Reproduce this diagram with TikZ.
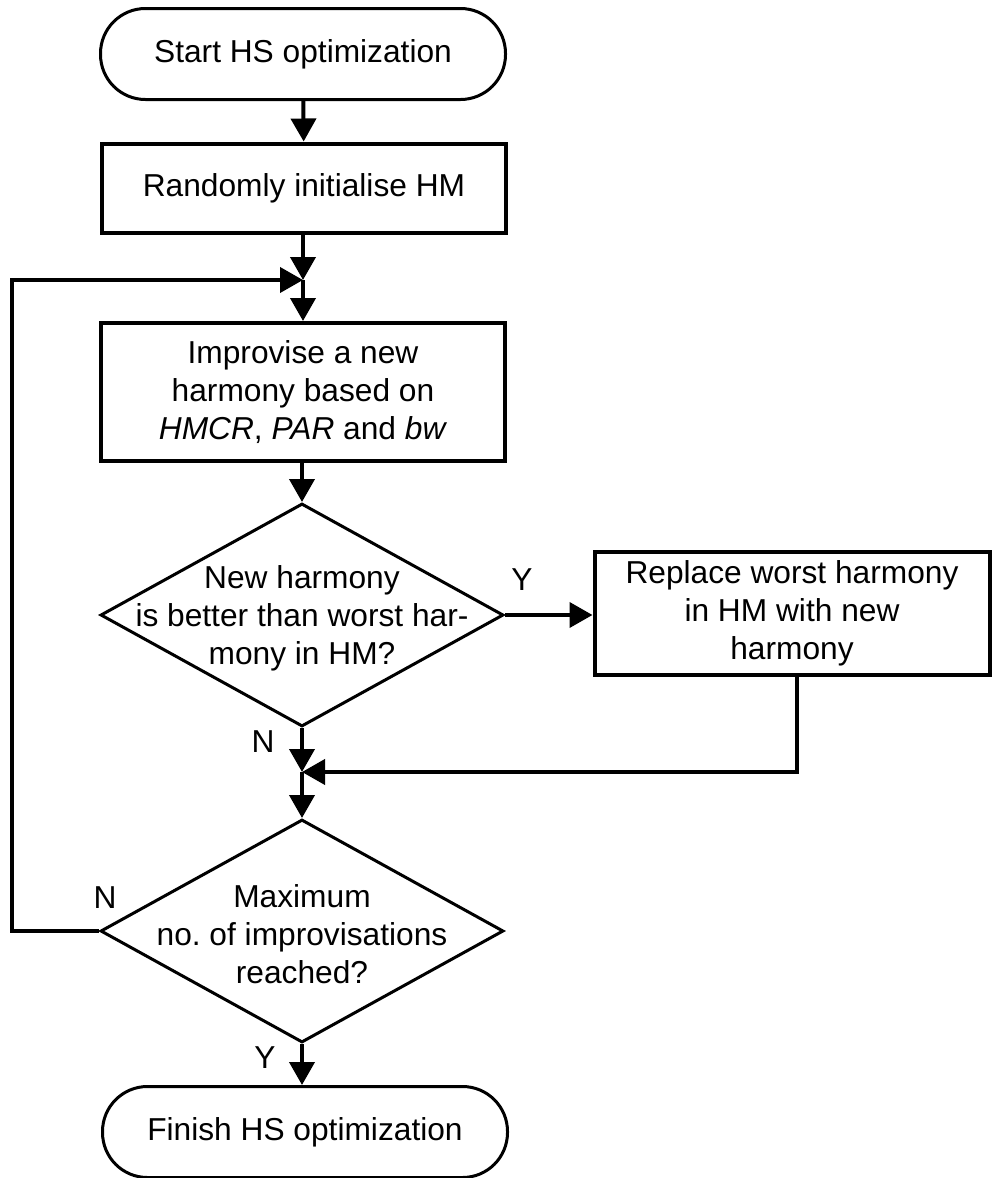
\documentclass[tikz,border=0pt]{standalone}
\usepackage{fontspec}
\setmainfont{Liberation Sans}
\usetikzlibrary{shapes.geometric,arrows.meta}
\frenchspacing
\begin{document}
\begin{tikzpicture}[x=1pt,y=-1pt,
  every node/.style={font=\fontsize{31.7}{38}\selectfont},
  term/.style={draw,line width=3pt,rounded corners=45pt,minimum width=405pt,minimum height=91pt,inner sep=0pt},
  proc/.style={draw,line width=4pt,minimum width=404pt,inner sep=0pt,align=center},
  dec/.style={draw,diamond,line width=3pt,minimum width=403pt,minimum height=223pt,inner sep=0pt},
  dectext/.style={align=center,inner sep=0pt,yshift=-3pt},
  flow/.style={line width=4pt,-{Triangle[length=23pt,width=25pt]}},
  lbl/.style={inner sep=0pt}
]
\useasboundingbox (0,0) rectangle (991,1178);

% process steps
\node[term] (start) at (303,54) {Start HS optimization};
\node[proc,minimum height=89pt] (init) at (304,188) {Randomly initialise HM};
\coordinate (j1) at (303,280);
\node[proc,minimum height=138pt] (impr) at (303,392)
  {Improvise a new\\harmony based on\\\textit{HMCR}, \textit{PAR} and \textit{bw}};
\node[dec,label={[dectext]center:New harmony\\is better than worst har-\\mony in HM?}] (d1) at (302,615) {};
\node[proc,minimum width=395pt,minimum height=123pt] (repl) at (792,613)
  {Replace worst harmony\\in HM with new\\harmony};
\coordinate (j2) at (302,772);
\node[dec,label={[dectext]center:Maximum\\no. of improvisations\\reached?}] (d2) at (302,931) {};
\node[term] (fin) at (305,1132) {Finish HS optimization};
\coordinate (lx) at (12,0);

% connectors
\draw[flow] (start) -- (init);
\draw[flow] (init.south -| j1) -- (j1);
\draw[flow] (j1) -- (j1 |- impr.north);
\draw[flow] (impr.south -| d1) -- (d1);
\draw[flow] (d1) -- (j2);
\draw[flow] (j2) -- (d2);
\draw[flow] (d2) -- (d2 |- fin.north);
\draw[flow] (d1.east) -- (d1.east -| repl.west);
\draw[flow] ([xshift=5pt]repl.south) |- (j2);
\draw[flow] (d2.west) -- (d2.west -| lx) |- (j1);

% branch labels
\node[lbl] (ly1) at (522,580) {Y};
\node[lbl] (ln1) at (263,742) {N};
\node[lbl] (ln2) at (105,898) {N};
\node[lbl] (ly2) at (265,1058) {Y};
\end{tikzpicture}
\end{document}
